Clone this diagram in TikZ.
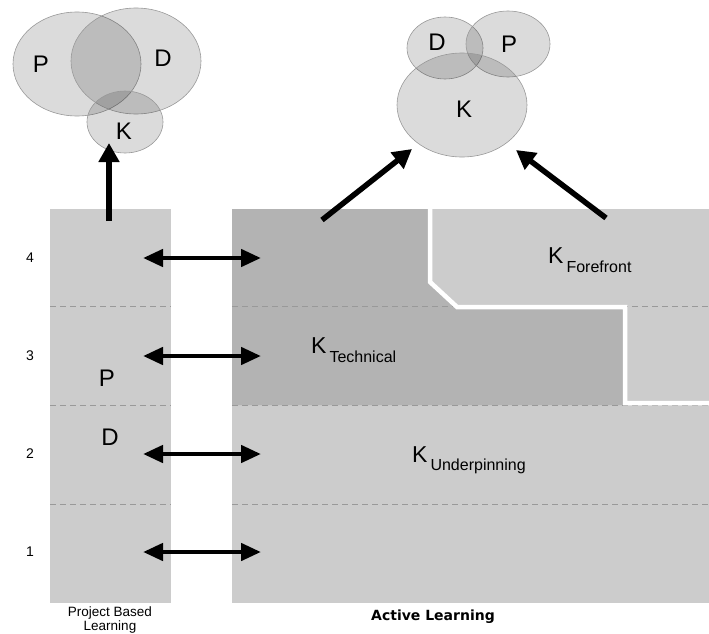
\documentclass[tikz,border=0pt]{standalone}
\usepackage{fontspec}
\setmainfont{Liberation Sans}
\newfontfamily\capfont{DejaVu Sans}
\usetikzlibrary{arrows.meta,shapes.geometric}
\definecolor{lightbox}{HTML}{CCCCCC}
\definecolor{darkbox}{HTML}{B3B3B3}
\definecolor{dashgray}{HTML}{999999}
\begin{document}
\begin{tikzpicture}[x=1pt,y=-1pt,
 venn/.style={ellipse, draw=black!40, line width=0.6pt, fill=black, fill opacity=0.14, inner sep=0pt},
 letter/.style={font=\fontsize{24}{26}\selectfont, inner sep=0pt},
 lvl/.style={font=\fontsize{14}{16}\selectfont, inner sep=0pt},
 sepline/.style={dashgray, dash pattern=on 6pt off 4pt, line width=1pt},
 dbl/.style={{Triangle[length=20pt,width=17pt]}-{Triangle[length=20pt,width=17pt]}, line width=4.5pt},
 uparrow/.style={-{Triangle[length=19pt,width=20pt]}, line width=5.5pt},
 klabel/.style={anchor=base west, inner sep=0pt},
 pcap/.style={font=\fontsize{13.5}{15}\selectfont, anchor=base, inner sep=0pt},
]
\useasboundingbox (0,0) rectangle (709,634);
% columns
\fill[lightbox] (50,209) rectangle (171,603);
\fill[lightbox] (232,209) rectangle (709,603);
\fill[darkbox] (232,209) -- (430,209) -- (430,282) -- (457,307) -- (625,307) -- (625,405) -- (232,405) -- cycle;
% dashed separators
\foreach \yy in {306,405,504} {
  \draw[sepline] (50,\yy) -- (171,\yy);
  \draw[sepline] (232,\yy) -- (709,\yy);
}
% white boundary
\draw[white, line width=4.5pt, line join=miter] (430,209) -- (430,282) -- (457,307) -- (625,307) -- (625,403) -- (709,403);
% level numbers and double arrows
\foreach \yy/\t in {258/4,356/3,454/2,552/1} {
  \node[lvl] (lv\t) at (30,\yy) {\t};
  \coordinate (la\t) at (143,\yy);
  \coordinate (ra\t) at (261,\yy);
  \draw[dbl] (la\t) -- (ra\t);
}
% column letters
\node[letter] (cp) at (107,378) {P};
\node[letter] (cd) at (110,437) {D};
% K labels
\node[klabel] (kt) at (311,353) {\fontsize{23}{25}\selectfont K\hspace{3pt}\raisebox{-9pt}{\fontsize{16}{18}\selectfont Technical}};
\node[klabel] (kf) at (548,263) {\fontsize{23}{25}\selectfont K\hspace{3pt}\raisebox{-9pt}{\fontsize{16}{18}\selectfont Forefront}};
\node[klabel] (ku) at (412,462) {\fontsize{23}{25}\selectfont K\hspace{3pt}\raisebox{-8pt}{\fontsize{16}{18}\selectfont Underpinning}};
% left Venn
\node[venn, minimum width=128pt, minimum height=104pt] (lP) at (77,64) {};
\node[venn, minimum width=130pt, minimum height=106pt] (lD) at (136,61) {};
\node[venn, minimum width=76pt, minimum height=62pt] (lK) at (125,122) {};
\node[letter] (lPt) at (41,64) {P};
\node[letter] (lDt) at (163,58) {D};
\node[letter] (lKt) at (124,131) {K};
% right Venn
\node[venn, minimum width=76pt, minimum height=62pt] (rD) at (445,48) {};
\node[venn, minimum width=84pt, minimum height=66pt] (rP) at (508,44) {};
\node[venn, minimum width=130pt, minimum height=104pt] (rK) at (462,105) {};
\node[letter] (rDt) at (437,42) {D};
\node[letter] (rPt) at (509,44) {P};
\node[letter] (rKt) at (464,109) {K};
% up arrows
\coordinate (s1) at (109,221);
\coordinate (e1) at (109,143);
\coordinate (s2) at (322,220);
\coordinate (e2) at (412,149);
\coordinate (s3) at (606,218);
\coordinate (e3) at (516,150);
\draw[uparrow] (s1) -- (e1);
\draw[uparrow] (s2) -- (e2);
\draw[uparrow] (s3) -- (e3);
% captions
\node[pcap] (pbl1) at (110,616) {Project Based};
\node[pcap] (pbl2) at (110,630.5) {Learning};
\node[font=\capfont\bfseries\fontsize{14}{16}\selectfont, anchor=base, inner sep=0pt] (al) at (433,620) {Active Learning};
\end{tikzpicture}
\end{document}
